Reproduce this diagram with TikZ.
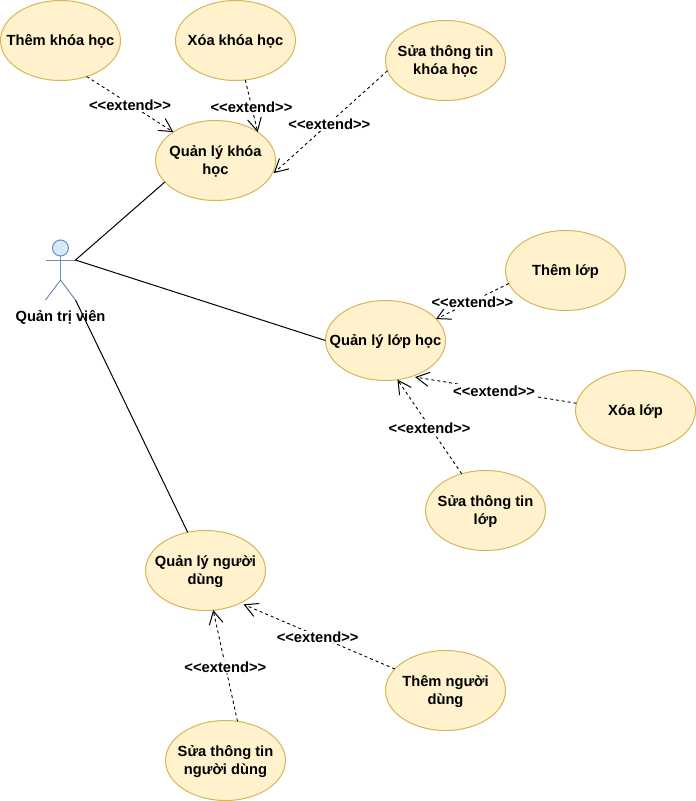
\documentclass[tikz,border=0pt]{standalone}
\usepackage{fontspec}
\setmainfont{Liberation Sans}
\usetikzlibrary{shapes.geometric,arrows.meta}
\definecolor{ucfill}{HTML}{FFF2CC}
\definecolor{ucline}{HTML}{D6B656}
\definecolor{actfill}{HTML}{DAE8FC}
\definecolor{actline}{HTML}{6C8EBF}
\pgfdeclarearrow{
  name=OpenVee,
  setup code={\pgfarrowssettipend{0pt}\pgfarrowssetlineend{-1pt}\pgfarrowssetbackend{-14pt}\pgfarrowshullpoint{0pt}{0pt}\pgfarrowshullpoint{-14pt}{7pt}\pgfarrowshullpoint{-14pt}{-7pt}},
  drawing code={\pgfsetdash{}{0pt}\pgfsetlinewidth{1pt}\pgfsetmiterjoin\pgfpathmoveto{\pgfqpoint{-14pt}{7pt}}\pgfpathlineto{\pgfqpoint{-1pt}{0pt}}\pgfpathlineto{\pgfqpoint{-14pt}{-7pt}}\pgfusepathqstroke}
}
\newcommand\uctext[1]{\raisebox{-1pt}[\height][\depth]{\begin{tabular}{@{}c@{}}#1\end{tabular}}}
\tikzset{
  base/.style={font=\fontsize{14.7}{18}\selectfont\bfseries, text=black},
  usecase/.style={base, ellipse, draw=ucline, fill=ucfill, line width=1pt, minimum width=120pt, minimum height=80pt, inner xsep=-25pt, inner ysep=-6pt, outer sep=0pt, align=center},
  actorpart/.style={draw=actline, line width=1pt},
  assoc/.style={draw=black, line width=1pt},
  ext/.style={draw=black, line width=0.9pt, dash pattern=on 3pt off 3pt, -{OpenVee}},
  extlabel/.style={base, fill=white, inner sep=1pt, pos=0.5, yshift=-1pt},
  gapend/.style={shorten >=3.5pt}
}
\begin{document}
\begin{tikzpicture}[x=1pt,y=-1pt]
\useasboundingbox (0,0) rectangle (696,801);
% use cases
\node[usecase] (addcourse) at (60.5,40.5) {\uctext{Thêm khóa học}};
\node[usecase] (delcourse) at (235.5,40.5) {\uctext{Xóa khóa học}};
\node[usecase] (editcourse) at (445.5,60.5) {\uctext{Sửa thông tin\\khóa học}};
\node[usecase] (course) at (215.5,160.5) {\uctext{Quản lý khóa\\học}};
\node[usecase] (addclass) at (565.5,270.5) {\uctext{Thêm lớp}};
\node[usecase] (class) at (385.5,340.5) {\uctext{Quản lý lớp học}};
\node[usecase] (delclass) at (635.5,410.5) {\uctext{Xóa lớp}};
\node[usecase] (editclass) at (485.5,510.5) {\uctext{Sửa thông tin\\lớp}};
\node[usecase] (user) at (205.5,570.5) {\uctext{Quản lý người\\dùng}};
\node[usecase] (adduser) at (445.5,690.5) {\uctext{Thêm người\\dùng}};
\node[usecase] (edituser) at (225.5,760.5) {\uctext{Sửa thông tin\\người dùng}};
% actor
\node[actorpart, fill=actfill, circle, minimum size=16pt, inner sep=0pt, outer sep=0pt] (head) at (60.5,248) {};
\coordinate (hip) at (60.5,280);
\coordinate (handL) at (45.5,260);
\coordinate (handR) at (75.5,260);
\coordinate (footL) at (45.5,300);
\coordinate (footR) at (75.5,300);
\draw[actorpart] (head.south) -- (hip);
\draw[actorpart] (handL) -- (handR);
\draw[actorpart] (footL) -- (hip) -- (footR);
\node[base] (admin) at (60.5,317) {Quản trị viên};
% associations
\draw[assoc] (handR) -- (course.203);
\draw[assoc] (handR) -- (class.180);
\draw[assoc] (footR) -- (user.115.6);
% extends
\draw[ext] (addcourse.-54) -- node[extlabel] (l1) {<{}<extend>{}>} (course.146);
\draw[ext] (delcourse.-76.5) -- node[extlabel] (l2) {<{}<extend>{}>} (course.34.8);
\draw[ext,gapend] (editcourse.190) -- node[extlabel] (l3) {<{}<extend>{}>} (course.-15);
\draw[ext] (addclass.193) -- node[extlabel] (l4) {<{}<extend>{}>} (class.23.8);
\draw[ext,gapend] (delclass.173) -- node[extlabel] (l5) {<{}<extend>{}>} (class.-54);
\draw[ext] (editclass.123) -- node[extlabel] (l6) {<{}<extend>{}>} (class.-73);
\draw[ext,gapend] (adduser.157) -- node[extlabel] (l7) {<{}<extend>{}>} (user.-43.4);
\draw[ext] (edituser.73.8) -- node[extlabel] (l8) {<{}<extend>{}>} (user.-79);
\end{tikzpicture}
\end{document}
